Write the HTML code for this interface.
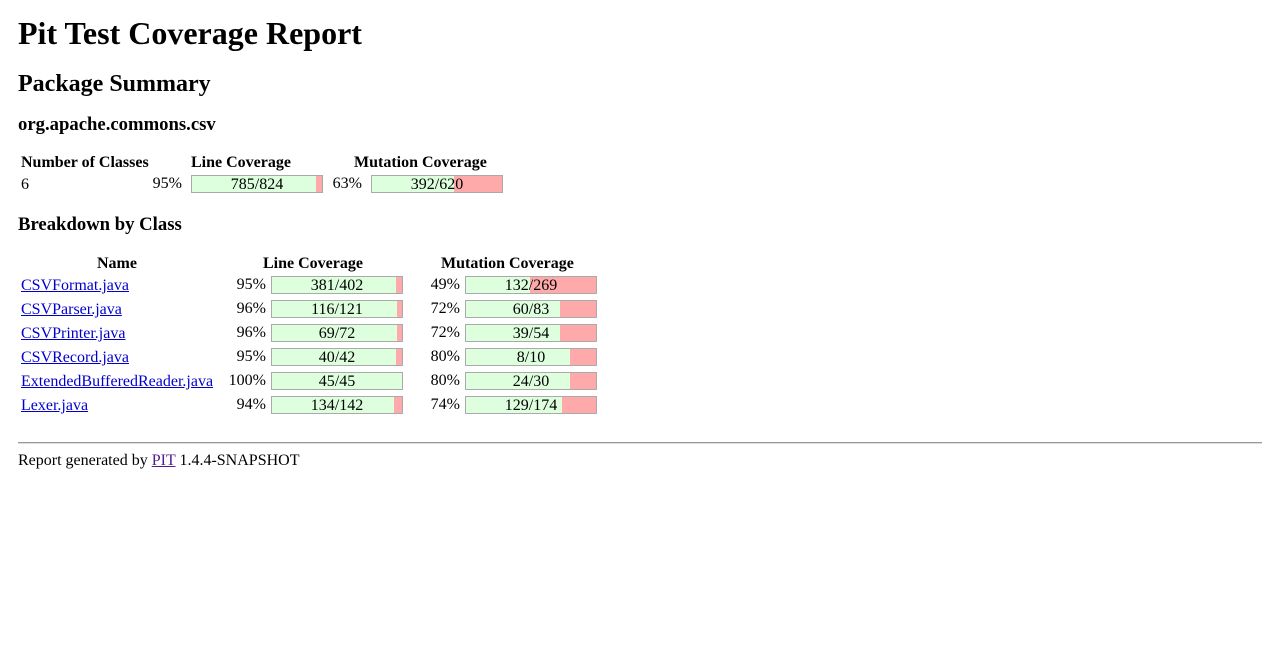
<!DOCTYPE html>
<html><head><meta charset="utf-8">
<style>
body{margin:0;width:1262px;height:662px;background:#fff;font-family:"Liberation Serif",serif;color:#000;position:relative;overflow:hidden}
.a{position:absolute;white-space:nowrap;line-height:1}
h1,h2,h3{margin:0;font-weight:bold}
.bar{position:absolute;width:130px;height:16px;border:1px solid #aaa;background:#faa}
.bar .g{position:absolute;left:0;top:0;height:16px;background:#dfd}
.bar .t{position:absolute;left:0;top:1px;width:130px;text-align:center;font-size:16px;line-height:16px}
.pct{position:absolute;font-size:16px;text-align:right;width:50px;line-height:16px}
a{color:#00c;text-decoration:underline}
a.v{color:#551a8b}
</style></head><body>
<h1 class="a" style="left:18px;top:17px;font-size:32px">Pit Test Coverage Report</h1>
<h2 class="a" style="left:18px;top:72px;font-size:24px">Package Summary</h2>
<h3 class="a" style="left:18px;top:116px;font-size:18.7px">org.apache.commons.csv</h3>
<div id="summary">
<div class="a" style="left:21px;top:155px;font-size:16px;font-weight:bold">Number of Classes</div>
<div class="a" style="left:191px;top:155px;font-size:16px;font-weight:bold">Line Coverage</div>
<div class="a" style="left:354px;top:155px;font-size:16px;font-weight:bold">Mutation Coverage</div>
<div class="a" style="left:21px;top:177px;font-size:16px">6</div>
</div>
<h3 class="a" style="left:18px;top:216px;font-size:18.7px">Breakdown by Class</h3>
<div class="a" style="left:97px;top:256px;font-size:16px;font-weight:bold">Name</div>
<div class="a" style="left:263px;top:256px;font-size:16px;font-weight:bold">Line Coverage</div>
<div class="a" style="left:441px;top:256px;font-size:16px;font-weight:bold">Mutation Coverage</div>
<div id="rows"></div>
<div style="position:absolute;left:18px;top:442px;width:1244px;height:0;border-top:1px solid #999;border-bottom:1px solid #ddd"></div>
<div class="a" style="left:18px;top:453px;font-size:16px">Report generated by <a class="v" href="#">PIT</a> 1.4.4-SNAPSHOT</div>
<script>
const summaryLine=[785,824];
const summaryMut=[392,620];
const classNames=["CSVFormat.java","CSVParser.java","CSVPrinter.java","CSVRecord.java","ExtendedBufferedReader.java","Lexer.java"];
const lineCovered=[381,116,69,40,45,134];
const lineTotal=[402,121,72,42,45,142];
const mutKilled=[132,60,39,8,24,129];
const mutTotal=[269,83,54,10,30,174];

function mkBar(parent,x,y,c,t,name,gap){
  const p=Math.round(c/t*100);
  const pc=document.createElement('div');
  pc.className='pct';pc.style.left=(x-50-gap)+'px';pc.style.top=(y+1)+'px';pc.textContent=p+'%';
  
  
  parent.appendChild(pc);
  const b=document.createElement('div');
  b.className='bar';b.style.left=x+'px';b.style.top=y+'px';
  
  
  const g=document.createElement('div');g.className='g';g.style.width=(p*1.3)+'px';
  
  
  const tx=document.createElement('div');tx.className='t';tx.textContent=c+'/'+t;
  
  
  b.appendChild(g);b.appendChild(tx);parent.appendChild(b);
}
const sum=document.getElementById('summary');
mkBar(sum,191,175,summaryLine[0],summaryLine[1],'summary-line-coverage',9);
mkBar(sum,371,175,summaryMut[0],summaryMut[1],'summary-mutation-coverage',9);
const rows=document.getElementById('rows');
classNames.forEach((n,i)=>{
  const y=276+i*24;
  const a=document.createElement('a');
  a.href='#';a.className='a';a.style.left='21px';a.style.top=(y+2)+'px';a.style.fontSize='16px';a.style.position='absolute';
  a.textContent=n;
  
  
  rows.appendChild(a);
  mkBar(rows,271,y,lineCovered[i],lineTotal[i],'line-coverage',5);
  mkBar(rows,465,y,mutKilled[i],mutTotal[i],'mutation-coverage',5);
});
</script>
</body></html>
